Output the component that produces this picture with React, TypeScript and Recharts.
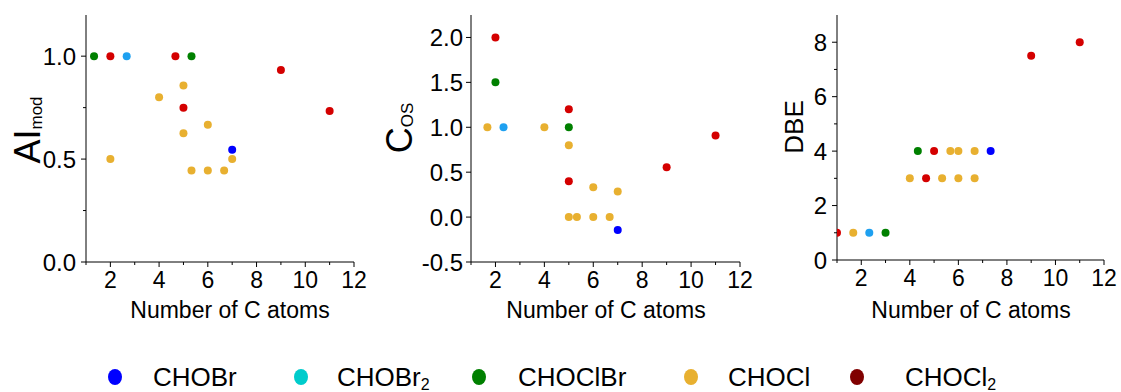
import { ScatterChart, Scatter, XAxis, YAxis } from 'recharts';

const FONT = '"Liberation Sans", Arial, Helvetica, sans-serif';

// groups and colours
const groups = ['CHOBr', 'CHOBr2', 'CHOClBr', 'CHOCl', 'CHOCl2'];
const plotColors = ['#0000ff', '#1ea0f0', '#008000', '#e8b030', '#d40000'];
const legendColors = ['#0000ff', '#00cccc', '#008000', '#e8b030', '#800000'];

const xTicks = [1, 2, 3, 4, 5, 6, 7, 8, 9, 10, 11, 12];

// AImod vs number of C atoms
const aiCHOBr = [[7, 0.545]];
const aiCHOBr2 = [[2.67, 1.0]];
const aiCHOClBr = [[1.33, 1.0], [5.33, 1.0]];
const aiCHOCl = [[2, 0.5], [4, 0.8], [5, 0.857], [5, 0.625], [5.33, 0.444], [6, 0.667], [6, 0.444], [6.67, 0.444], [7, 0.5]];
const aiCHOCl2 = [[2, 1.0], [4.67, 1.0], [5, 0.75], [9, 0.933], [11, 0.733]];
const aiTicks = [0, 0.25, 0.5, 0.75, 1.0];

// OSc vs number of C atoms
const osCHOBr = [[7, -0.143]];
const osCHOBr2 = [[2.33, 1.0]];
const osCHOClBr = [[2, 1.5], [5, 1.0]];
const osCHOCl = [[1.67, 1.0], [4, 1.0], [5, 0.8], [5, 0], [5.33, 0], [6, 0.333], [6, 0], [6.67, 0], [7, 0.286]];
const osCHOCl2 = [[2, 2.0], [5, 1.2], [5, 0.4], [9, 0.556], [11, 0.909]];
const osTicks = [-0.5, -0.25, 0, 0.25, 0.5, 0.75, 1.0, 1.25, 1.5, 1.75, 2.0];

// DBE vs number of C atoms
const dbeCHOBr = [[7.33, 4]];
const dbeCHOBr2 = [[2.33, 1]];
const dbeCHOClBr = [[3, 1], [4.33, 4]];
const dbeCHOCl = [[1.67, 1], [4, 3], [5.33, 3], [6, 3], [6.67, 3], [5.67, 4], [6, 4], [6.67, 4]];
const dbeCHOCl2 = [[1, 1], [4.67, 3], [5, 4], [9, 7.5], [11, 8]];
const dbeTicks = [0, 1, 2, 3, 4, 5, 6, 7, 8];

const toPoints = (pairs: number[][]) => pairs.map(([c, v]) => ({ c, v }));

const isMajor = (v: number, step: number) => Math.abs(v / step - Math.round(v / step)) < 1e-6;

function makeYTick(step: number, decimals: number, gap: number) {
  return (props: any) => {
    const { x, y, payload } = props;
    const major = isMajor(payload.value, step);
    return (
      <g>
        <line x1={x - (major ? 5 : 3)} x2={x} y1={y} y2={y} stroke="#000" />
        {major && (
          <text x={x - gap} y={y} dy="0.36em" textAnchor="end" fontSize={24} fontFamily={FONT} fill="#000">
            {payload.value.toFixed(decimals)}
          </text>
        )}
      </g>
    );
  };
}

const XTick = (props: any) => {
  const { x, y, payload } = props;
  const major = isMajor(payload.value, 2);
  return (
    <g>
      <line x1={x} x2={x} y1={y} y2={y + (major ? 5 : 3)} stroke="#000" />
      {major && (
        <text x={x} y={y + 10} dy="0.71em" textAnchor="middle" fontSize={23} fontFamily={FONT} fill="#000">
          {payload.value}
        </text>
      )}
    </g>
  );
};

const XTitle = (p: any) => (
  <text x={p.tx} y={318} textAnchor="middle" fontSize={23} fontFamily={FONT} fill="#000">
    Number of C atoms
  </text>
);

const Dot = (color: string) => (props: any) => <circle cx={props.cx} cy={props.cy} r={4} fill={color} />;

interface TitleSpec {
  tx: number;
  ty: number;
  main: string;
  sub?: string;
  size: number;
  subSize?: number;
  subDy?: number;
}

// rotated y title drawn over the chart
function YTitle({ t, width }: { t: TitleSpec; width: number }) {
  return (
    <svg width={width} height={330} style={{ position: 'absolute', left: 0, top: 0, pointerEvents: 'none' }}>
      <text
        x={t.tx}
        y={t.ty}
        transform={`rotate(-90 ${t.tx} ${t.ty})`}
        textAnchor="middle"
        fontFamily={FONT}
        fontSize={t.size}
        fill="#000"
      >
        {t.main}
        {t.sub && (
          <tspan fontSize={t.subSize} dy={t.subDy}>
            {t.sub}
          </tspan>
        )}
      </text>
    </svg>
  );
}

interface PanelProps {
  left: number;
  width: number;
  yWidth: number;
  right: number;
  bottom: number;
  domain: [number, number];
  ticks: number[];
  step: number;
  decimals: number;
  gap: number;
  series: number[][][];
  title: TitleSpec;
  xTitleX: number;
}

function Panel({ left, width, yWidth, right, bottom, domain, ticks, step, decimals, gap, series, title, xTitleX }: PanelProps) {
  return (
    <div style={{ position: 'absolute', left, top: 0, width, height: 330 }}>
      <ScatterChart width={width} height={330} margin={{ top: 15, right, left: 0, bottom }}>
        <XAxis
          type="number"
          dataKey="c"
          domain={[1, 12]}
          ticks={xTicks}
          allowDataOverflow
          height={60}
          tickSize={0}
          tickMargin={0}
          tickLine={false}
          tick={<XTick />}
          axisLine={{ stroke: '#000' }}
          label={<XTitle tx={xTitleX} />}
        />
        <XAxis xAxisId="top" orientation="top" type="number" domain={[1, 12]} height={0} tick={false} tickLine={false} axisLine={{ stroke: '#808080' }} />
        <YAxis
          type="number"
          dataKey="v"
          domain={domain}
          ticks={ticks}
          allowDataOverflow
          width={yWidth}
          tickSize={0}
          tickMargin={0}
          tickLine={false}
          tick={makeYTick(step, decimals, gap)}
          axisLine={{ stroke: '#000' }}
        />
        <YAxis yAxisId="right" orientation="right" type="number" domain={domain} width={0} tick={false} tickLine={false} axisLine={{ stroke: '#808080' }} />
        {series.map((pairs, i) => (
          <Scatter
            key={groups[i]}
            name={groups[i]}
            data={toPoints(pairs)}
            fill={plotColors[i]}
            shape={Dot(plotColors[i])}
            isAnimationActive={false}
          />
        ))}
      </ScatterChart>
      <YTitle t={title} width={width} />
    </div>
  );
}

const legendMarkerX = [115, 301, 479, 691, 857];
const legendTextX = [153, 337, 518, 728, 905];

function Legend() {
  return (
    <svg width={1121} height={36} style={{ position: 'absolute', left: 0, top: 356 }}>
      {groups.map((g, i) => {
        const base = g.endsWith('2') ? g.slice(0, -1) : g;
        return (
          <g key={g}>
            <ellipse cx={legendMarkerX[i]} cy={21} rx={7} ry={8} fill={legendColors[i]} />
            <text x={legendTextX[i]} y={30} fontSize={26} fontFamily={FONT} fill="#000">
              {base}
              {base !== g && (
                <tspan fontSize={16} dy={4}>
                  2
                </tspan>
              )}
            </text>
          </g>
        );
      })}
    </svg>
  );
}

export default function App() {
  return (
    <div style={{ position: 'absolute', left: 0, top: 0, width: 1121, height: 392, background: '#fff', overflow: 'hidden' }}>
      <Panel
        left={0}
        width={370}
        yWidth={86}
        right={16}
        bottom={8}
        domain={[0, 1.2]}
        ticks={aiTicks}
        step={0.5}
        decimals={1}
        gap={10}
        series={[aiCHOBr, aiCHOBr2, aiCHOClBr, aiCHOCl, aiCHOCl2]}
        title={{ tx: 40, ty: 130, main: 'AI', sub: 'mod', size: 36, subSize: 17, subDy: 2 }}
        xTitleX={230}
      />
      <Panel
        left={370}
        width={400}
        yWidth={101}
        right={30}
        bottom={8}
        domain={[-0.5, 2.25]}
        ticks={osTicks}
        step={0.5}
        decimals={1}
        gap={8}
        series={[osCHOBr, osCHOBr2, osCHOClBr, osCHOCl, osCHOCl2]}
        title={{ tx: 42, ty: 128, main: 'C', sub: 'OS', size: 36, subSize: 17, subDy: 1 }}
        xTitleX={236}
      />
      <Panel
        left={750}
        width={371}
        yWidth={87}
        right={17}
        bottom={10}
        domain={[0, 9]}
        ticks={dbeTicks}
        step={2}
        decimals={0}
        gap={10}
        series={[dbeCHOBr, dbeCHOBr2, dbeCHOClBr, dbeCHOCl, dbeCHOCl2]}
        title={{ tx: 53, ty: 127, main: 'DBE', size: 26 }}
        xTitleX={221}
      />
      <Legend />
    </div>
  );
}
